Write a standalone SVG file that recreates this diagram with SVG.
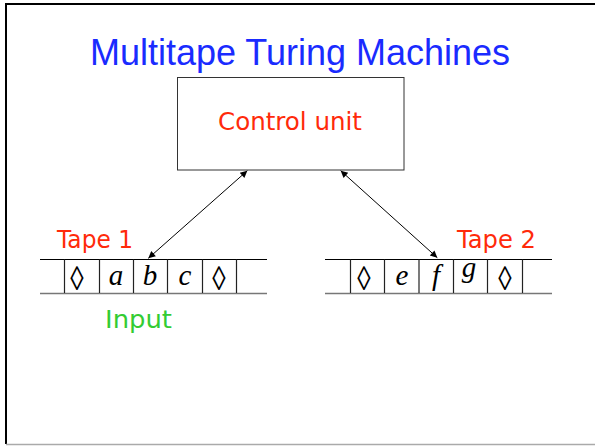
<svg xmlns="http://www.w3.org/2000/svg" width="595" height="446" viewBox="0 0 595 446">
  <defs>
    <marker id="arrow" viewBox="0 0 10 10" refX="10" refY="5" markerWidth="9" markerHeight="7" markerUnits="userSpaceOnUse" orient="auto-start-reverse">
      <path d="M0,0 L10,5 L0,10 z" fill="#000"/>
    </marker>
  </defs>
  <style>
    .title { font-family: "Liberation Sans", Arial, sans-serif; font-size: 36px; fill: #1a2bff; }
    .red { font-family: "Comic Sans MS", "DejaVu Sans", sans-serif; fill: #ff2a0a; }
    .green { font-family: "Comic Sans MS", "DejaVu Sans", sans-serif; fill: #33cc33; }
    .sym { font-family: "Liberation Serif", "Times New Roman", serif; font-size: 29px; font-style: italic; fill: #000; text-anchor: middle; }
    .loz { font-family: "Liberation Serif", "Times New Roman", serif; font-size: 27px; fill: #000; text-anchor: middle; }
    .rail { stroke: #000; stroke-width: 1; }
    .rail-b { stroke: #777; stroke-width: 1.6; }
    .cell { stroke: #222; stroke-width: 1.2; }
    .link { stroke: #000; stroke-width: 1; fill: none; }
  </style>

  <!-- slide frame -->
  <rect x="0" y="0" width="595" height="446" fill="#fff"/>
  <line x1="6" y1="4" x2="595" y2="4" stroke="#000" stroke-width="2"/>
  <line x1="6" y1="3" x2="6" y2="444" stroke="#000" stroke-width="2"/>
  <line x1="6" y1="444.5" x2="595" y2="444.5" stroke="#aaa" stroke-width="1.5"/>

  <text class="title" x="300" y="65" text-anchor="middle">Multitape Turing Machines</text>

  <g id="control-unit">
    <rect x="177.5" y="77.5" width="226.5" height="92.5" fill="#fff" stroke="#333" stroke-width="1"/>
    <text class="red" x="290" y="130" font-size="25" text-anchor="middle" textLength="144" lengthAdjust="spacingAndGlyphs">Control unit</text>
  </g>

  <g id="tape1">
    <text class="red" x="57" y="248" font-size="24" textLength="76" lengthAdjust="spacingAndGlyphs">Tape 1</text>
    <line class="rail" x1="40" y1="259.5" x2="267" y2="259.5"/>
    <line class="rail-b" x1="40" y1="293.5" x2="267" y2="293.5"/>
    <line class="cell" x1="64.5" y1="259.5" x2="64.5" y2="293"/>
    <line class="cell" x1="99.5" y1="259.5" x2="99.5" y2="293"/>
    <line class="cell" x1="133.5" y1="259.5" x2="133.5" y2="293"/>
    <line class="cell" x1="167.5" y1="259.5" x2="167.5" y2="293"/>
    <line class="cell" x1="202.5" y1="259.5" x2="202.5" y2="293"/>
    <line class="cell" x1="236.5" y1="259.5" x2="236.5" y2="293"/>
    <text class="loz" x="77" y="290" transform="translate(77 290) scale(1 1.25) translate(-77 -290)">◊</text>
    <text class="sym" x="116" y="285">a</text>
    <text class="sym" x="150" y="285">b</text>
    <text class="sym" x="185" y="285">c</text>
    <text class="loz" x="219" y="290" transform="translate(219 290) scale(1 1.25) translate(-219 -290)">◊</text>
  </g>

  <g id="input-label">
    <text class="green" x="105" y="328" font-size="24" textLength="67" lengthAdjust="spacingAndGlyphs">Input</text>
  </g>

  <g id="tape2">
    <text class="red" x="457" y="248" font-size="24" textLength="79" lengthAdjust="spacingAndGlyphs">Tape 2</text>
    <line class="rail" x1="325" y1="259.5" x2="552" y2="259.5"/>
    <line class="rail-b" x1="325" y1="293.5" x2="552" y2="293.5"/>
    <line class="cell" x1="350.5" y1="259.5" x2="350.5" y2="293"/>
    <line class="cell" x1="384.5" y1="259.5" x2="384.5" y2="293"/>
    <line class="cell" x1="419" y1="259.5" x2="419" y2="293"/>
    <line class="cell" x1="453.5" y1="259.5" x2="453.5" y2="293"/>
    <line class="cell" x1="487.5" y1="259.5" x2="487.5" y2="293"/>
    <line class="cell" x1="522.5" y1="259.5" x2="522.5" y2="293"/>
    <text class="loz" x="364" y="290" transform="translate(364 290) scale(1 1.25) translate(-364 -290)">◊</text>
    <text class="sym" x="402" y="285">e</text>
    <text class="sym" x="436" y="285">f</text>
    <text class="sym" x="469" y="277">g</text>
    <text class="loz" x="505" y="290" transform="translate(505 290) scale(1 1.25) translate(-505 -290)">◊</text>
  </g>

  <g id="connectors">
    <line class="link" x1="247.3" y1="170.7" x2="148.3" y2="258.3" marker-start="url(#arrow)" marker-end="url(#arrow)"/>
    <line class="link" x1="340.7" y1="170.7" x2="437.3" y2="257.7" marker-start="url(#arrow)" marker-end="url(#arrow)"/>
  </g>
</svg>
